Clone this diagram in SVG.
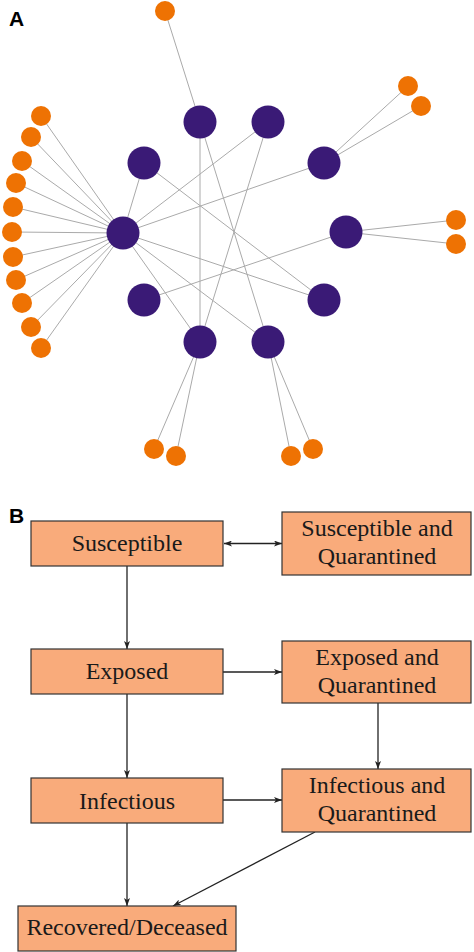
<svg xmlns="http://www.w3.org/2000/svg" width="474" height="952" viewBox="0 0 474 952">
<defs>
<marker id="ah" viewBox="0 0 8 6" refX="8" refY="3" markerWidth="8" markerHeight="6" markerUnits="userSpaceOnUse" orient="auto-start-reverse">
<path d="M0,0 L8,3 L0,6 L2,3 z" fill="#222"/>
</marker>
</defs>
<style>
.lbl{font-family:"Liberation Sans",Arial,sans-serif;font-weight:bold;font-size:21px;fill:#000}
.e{stroke:#aaa;stroke-width:1;fill:none}
.p{fill:#3a1a76}
.o{fill:#ee7203}
.box{fill:#f9ab7b;stroke:#333;stroke-width:1.2}
.t{font-family:"Liberation Serif","Times New Roman",serif;font-size:24px;fill:#1a1a1a;text-anchor:middle}
.a{stroke:#222;stroke-width:1.3;fill:none;marker-end:url(#ah)}
</style>
<rect width="474" height="952" fill="#fff"/>
<text class="lbl" x="9" y="26">A</text>
<text class="lbl" x="9" y="523">B</text>
<g id="network-edges">
<line class="e" x1="165" y1="11" x2="200" y2="122"/>
<line class="e" x1="200" y1="122" x2="200" y2="342"/>
<line class="e" x1="200" y1="122" x2="268" y2="342"/>
<line class="e" x1="268" y1="122" x2="123" y2="233"/>
<line class="e" x1="268" y1="122" x2="200" y2="342"/>
<line class="e" x1="324" y1="163" x2="123" y2="233"/>
<line class="e" x1="324" y1="163" x2="408" y2="86"/>
<line class="e" x1="324" y1="163" x2="421" y2="106"/>
<line class="e" x1="346" y1="232" x2="456" y2="220"/>
<line class="e" x1="346" y1="232" x2="456" y2="244"/>
<line class="e" x1="346" y1="232" x2="144" y2="300"/>
<line class="e" x1="144" y1="163" x2="123" y2="233"/>
<line class="e" x1="144" y1="163" x2="324" y2="300"/>
<line class="e" x1="123" y1="233" x2="324" y2="300"/>
<line class="e" x1="123" y1="233" x2="200" y2="342"/>
<line class="e" x1="123" y1="233" x2="268" y2="342"/>
<line class="e" x1="200" y1="342" x2="154" y2="449"/>
<line class="e" x1="200" y1="342" x2="176" y2="456"/>
<line class="e" x1="268" y1="342" x2="291" y2="456"/>
<line class="e" x1="268" y1="342" x2="313" y2="449"/>
<line class="e" x1="123" y1="233" x2="41" y2="116"/>
<line class="e" x1="123" y1="233" x2="31" y2="137"/>
<line class="e" x1="123" y1="233" x2="22" y2="161"/>
<line class="e" x1="123" y1="233" x2="16" y2="183"/>
<line class="e" x1="123" y1="233" x2="13" y2="207"/>
<line class="e" x1="123" y1="233" x2="12" y2="232"/>
<line class="e" x1="123" y1="233" x2="13" y2="257"/>
<line class="e" x1="123" y1="233" x2="16" y2="280"/>
<line class="e" x1="123" y1="233" x2="22" y2="303"/>
<line class="e" x1="123" y1="233" x2="31" y2="327"/>
<line class="e" x1="123" y1="233" x2="41" y2="348"/>
</g>
<g id="network-nodes">
<circle id="p1" class="p" cx="200" cy="122" r="16.5"/>
<circle id="p2" class="p" cx="268" cy="122" r="16.5"/>
<circle id="p3" class="p" cx="144" cy="163" r="16.5"/>
<circle id="p4" class="p" cx="324" cy="163" r="16.5"/>
<circle id="hub" class="p" cx="123" cy="233" r="16.5"/>
<circle id="p6" class="p" cx="346" cy="232" r="16.5"/>
<circle id="p7" class="p" cx="144" cy="300" r="16.5"/>
<circle id="p8" class="p" cx="324" cy="300" r="16.5"/>
<circle id="p9" class="p" cx="200" cy="342" r="16.5"/>
<circle id="p10" class="p" cx="268" cy="342" r="16.5"/>
<circle class="o" cx="165" cy="11" r="10"/>
<circle class="o" cx="408" cy="86" r="10"/>
<circle class="o" cx="421" cy="106" r="10"/>
<circle class="o" cx="456" cy="220" r="10"/>
<circle class="o" cx="456" cy="244" r="10"/>
<circle class="o" cx="154" cy="449" r="10"/>
<circle class="o" cx="176" cy="456" r="10"/>
<circle class="o" cx="291" cy="456" r="10"/>
<circle class="o" cx="313" cy="449" r="10"/>
<circle class="o" cx="41" cy="116" r="10"/>
<circle class="o" cx="31" cy="137" r="10"/>
<circle class="o" cx="22" cy="161" r="10"/>
<circle class="o" cx="16" cy="183" r="10"/>
<circle class="o" cx="13" cy="207" r="10"/>
<circle class="o" cx="12" cy="232" r="10"/>
<circle class="o" cx="13" cy="257" r="10"/>
<circle class="o" cx="16" cy="280" r="10"/>
<circle class="o" cx="22" cy="303" r="10"/>
<circle class="o" cx="31" cy="327" r="10"/>
<circle class="o" cx="41" cy="348" r="10"/>
</g>
<g id="connectors">
<line class="a" x1="224" y1="543.5" x2="282" y2="543.5" marker-start="url(#ah)"/>
<line class="a" x1="127" y1="566" x2="127" y2="649"/>
<line class="a" x1="223" y1="672" x2="282" y2="672"/>
<line class="a" x1="127" y1="694" x2="127" y2="778"/>
<line class="a" x1="378" y1="703" x2="378" y2="769"/>
<line class="a" x1="223" y1="800" x2="282" y2="800"/>
<line class="a" x1="127" y1="823" x2="127" y2="906"/>
<line class="a" x1="315" y1="832" x2="173" y2="906"/>
</g>
<g id="susceptible">
<rect class="box" x="31" y="521" width="192" height="45"/>
<text class="t" x="127" y="551">Susceptible</text>
</g>
<g id="susceptible-quarantined">
<rect class="box" x="282" y="512" width="189" height="63"/>
<text class="t" x="377" y="536">Susceptible and</text>
<text class="t" x="377" y="564">Quarantined</text>
</g>
<g id="exposed">
<rect class="box" x="31" y="649" width="192" height="45"/>
<text class="t" x="127" y="679">Exposed</text>
</g>
<g id="exposed-quarantined">
<rect class="box" x="282" y="641" width="189" height="62"/>
<text class="t" x="377" y="665">Exposed and</text>
<text class="t" x="377" y="693">Quarantined</text>
</g>
<g id="infectious">
<rect class="box" x="31" y="778" width="192" height="45"/>
<text class="t" x="127" y="809">Infectious</text>
</g>
<g id="infectious-quarantined">
<rect class="box" x="282" y="769" width="189" height="63"/>
<text class="t" x="377" y="793">Infectious and</text>
<text class="t" x="377" y="821">Quarantined</text>
</g>
<g id="recovered">
<rect class="box" x="18" y="906" width="218" height="45"/>
<text class="t" x="127" y="935">Recovered/Deceased</text>
</g>
</svg>
